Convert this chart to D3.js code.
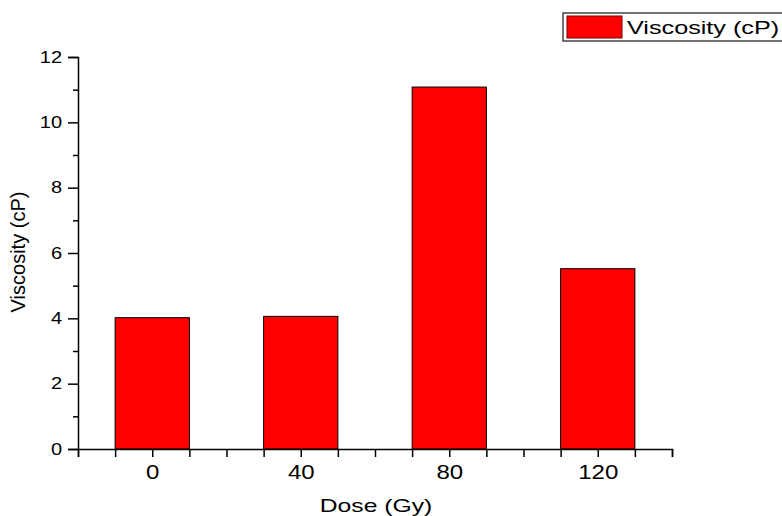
<!DOCTYPE html>
<html>
<head>
<meta charset="utf-8">
<script src="https://cdn.jsdelivr.net/npm/d3@7"></script>
<style>
  body { margin: 0; background: #fff; }
  text { font-family: "Liberation Sans", Arial, sans-serif; fill: #000; }
</style>
</head>
<body>
<svg width="782" height="516"></svg>
<script>
  // data
  const doses = ["0", "40", "80", "120"];
  const viscosity = [4.02, 4.06, 11.08, 5.52];
  const yTicks = [0, 2, 4, 6, 8, 10, 12];

  const svg = d3.select("svg");

  // plot area
  const plotLeft = 78, plotRight = 672, plotTop = 57, plotBottom = 449;

  // x is a slot scale: 16 slots, each dose gets 4 (bar is 2 wide, centred)
  const x = d3.scaleLinear().domain([0, 16]).range([plotLeft, plotRight]);
  const y = d3.scaleLinear().domain([0, 12]).range([plotBottom, plotTop]);

  // stretch text horizontally like the original export
  function stretch(sel, k) {
    sel.each(function() {
      const w = this.getComputedTextLength();
      d3.select(this).attr("textLength", w * k).attr("lengthAdjust", "spacingAndGlyphs");
    });
  }

  // bars
  svg.selectAll(".bar")
    .data(viscosity)
    .enter().append("rect")
    .attr("class", "bar")
    .attr("x", (d, i) => x(i * 4 + 1))
    .attr("width", x(2) - x(0))
    .attr("y", d => y(d))
    .attr("height", d => y(0) - y(d))
    .attr("fill", "#ff0000")
    .attr("stroke", "#000")
    .attr("stroke-width", 1);

  // y axis (major + minor ticks)
  const yAxis = svg.append("g")
    .attr("transform", `translate(${plotLeft},0)`)
    .call(d3.axisLeft(y).tickValues(yTicks).tickSize(10).tickPadding(6));
  yAxis.select(".domain").attr("stroke-width", 1.5);
  yAxis.selectAll(".tick line").attr("stroke-width", 1.5);
  yAxis.selectAll("text").style("font-size", "16px")
    .style("font-family", "Liberation Sans, Arial, sans-serif");
  stretch(yAxis.selectAll("text"), 1.25);

  svg.append("g")
    .attr("transform", `translate(${plotLeft},0)`)
    .call(d3.axisLeft(y).tickValues(d3.range(1, 12, 2)).tickSize(5).tickFormat(""))
    .call(g => g.select(".domain").remove())
    .selectAll("line").attr("stroke-width", 1.5);

  // x axis: tick every slot, labels at dose centres
  const xAxis = svg.append("g")
    .attr("transform", `translate(0,${plotBottom})`)
    .call(d3.axisBottom(x).tickValues(d3.range(0, 17)).tickSize(8).tickPadding(8)
      .tickFormat(v => (v % 4 === 2 ? doses[(v - 2) / 4] : "")));
  xAxis.select(".domain").attr("stroke-width", 1.5);
  xAxis.selectAll(".tick line").attr("stroke-width", 1.5);
  xAxis.selectAll("text").style("font-size", "20px")
    .style("font-family", "Liberation Sans, Arial, sans-serif");
  stretch(xAxis.selectAll("text").filter(function() { return this.textContent !== ""; }), 1.2);

  // axis titles
  const xTitle = svg.append("text")
    .attr("x", 376)
    .attr("y", 512)
    .attr("text-anchor", "middle")
    .style("font-size", "19px")
    .text("Dose (Gy)");
  stretch(xTitle, 1.3);

  const yTitle = svg.append("text")
    .attr("transform", "translate(25,252) rotate(-90)")
    .attr("text-anchor", "middle")
    .style("font-size", "20px")
    .text("Viscosity (cP)");

  // legend
  const legend = svg.append("g");
  legend.append("rect")
    .attr("x", 563).attr("y", 13)
    .attr("width", 240).attr("height", 28)
    .attr("fill", "#fff")
    .attr("stroke", "#444")
    .attr("stroke-width", 1.5);
  legend.append("rect")
    .attr("x", 567).attr("y", 16)
    .attr("width", 55).attr("height", 22)
    .attr("fill", "#ff0000")
    .attr("stroke", "#7a0000")
    .attr("stroke-width", 1);
  const legText = legend.append("text")
    .attr("x", 627).attr("y", 34)
    .style("font-size", "18px")
    .text("Viscosity (cP)");
  stretch(legText, 1.4);
</script>
</body>
</html>
